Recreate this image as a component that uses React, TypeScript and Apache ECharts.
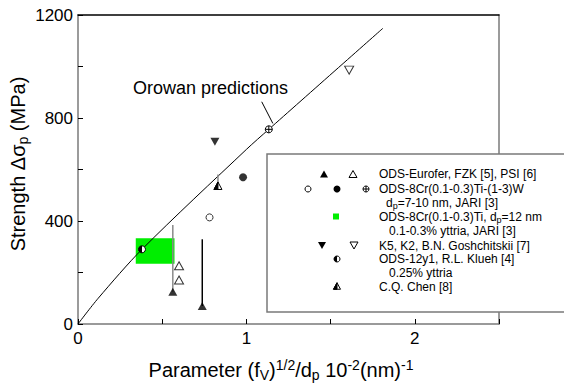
import React, { useEffect, useRef } from 'react';
import * as echarts from 'echarts';

// ---------- data ----------
// Orowan prediction curve (x: (fV)^1/2/dp [10^-2 nm^-1], y: MPa)
const orowanX = [0, 0.12, 0.38, 1.0, 1.133, 1.81];
const orowanY = [0, 100, 290, 678, 756, 1148];
// Green box: ODS-8Cr(0.1-0.3)Ti, dp=12 nm  [xMin, xMax, yMin, yMax]
const greenBox = [[0.343, 0.573, 234, 333]];
// Vertical range bars [x, yLow, yHigh]
const rangeBars = [
  [0.563, 125, 384],
  [0.738, 70, 329],
  [0.831, 537, 581],
];
const rangeBarColors = ['#8a8a8a', '#000000', '#8a8a8a'];
// Scatter series
const euroferFZK = [[0.563, 125], [0.738, 70]];
const euroferPSI = [[0.60, 226], [0.60, 171]];
const jariOpen = [[0.781, 414]];
const jariFilled = [[0.98, 570]];
const jariCrossed = [[1.133, 756]];
const goshK5 = [[0.813, 708]];
const goshK2 = [[1.61, 986]];
const kluehHalf = [[0.38, 290]];
const chenHalf = [[0.831, 537]];
// Annotation arrow (data coords)
const arrowFrom = [1.091, 863];
const arrowTo = [1.157, 779];
// Axis ticks
const xTickLabels = [0, 1, 2];
const yTickLabels = [0, 400, 800, 1200];

const FONT = 'Liberation Sans, Arial, Helvetica, sans-serif';

function triPts(cx: number, cy: number, w: number, h: number, down = false) {
  return down
    ? [[cx - w / 2, cy - h / 2], [cx + w / 2, cy - h / 2], [cx, cy + h / 2]]
    : [[cx, cy - h / 2], [cx - w / 2, cy + h / 2], [cx + w / 2, cy + h / 2]];
}

function halfCircle(cx: number, cy: number, r: number, z = 0) {
  return [
    { type: 'circle', z, shape: { cx, cy, r }, style: { fill: '#fff', stroke: '#000', lineWidth: 1 } },
    {
      type: 'sector', z,
      shape: { cx, cy, r, r0: 0, startAngle: Math.PI / 2, endAngle: (Math.PI * 3) / 2, clockwise: true },
      style: { fill: '#000' },
    },
  ];
}
function halfTri(cx: number, cy: number, w: number, h: number, z = 0) {
  return [
    { type: 'polygon', z, shape: { points: triPts(cx, cy, w, h) }, style: { fill: '#fff', stroke: '#000', lineWidth: 1 } },
    {
      type: 'polygon', z,
      shape: { points: [[cx, cy - h / 2], [cx - w / 2, cy + h / 2], [cx, cy + h / 2]] },
      style: { fill: '#000', stroke: '#000', lineWidth: 1 },
    },
  ];
}
function crossCircle(cx: number, cy: number, r: number, z = 0) {
  return [
    { type: 'circle', z, shape: { cx, cy, r }, style: { fill: '#fff', stroke: '#000', lineWidth: 1 } },
    { type: 'line', z, shape: { x1: cx - r, y1: cy, x2: cx + r, y2: cy }, style: { stroke: '#000', lineWidth: 1 } },
    { type: 'line', z, shape: { x1: cx, y1: cy - r, x2: cx, y2: cy + r }, style: { stroke: '#000', lineWidth: 1 } },
  ];
}

export default function App() {
  const ref = useRef<HTMLDivElement>(null);
  useEffect(() => {
    if (!ref.current) return;
    const chart = echarts.init(ref.current, null, { renderer: 'svg' });

    const LZ = 100;
    const legendRows: [number, string, number][] = [
      [379, '{n|ODS-Eurofer, FZK [5], PSI [6]}', 174],
      [379, '{n|ODS-8Cr(0.1-0.3)Ti-(1-3)W}', 188.5],
      [386, '{n|d}{s|p}{n|=7-10 nm, JARI [3]}', 202.5],
      [379, '{n|ODS-8Cr(0.1-0.3)Ti, d}{s|p}{n|=12 nm}', 216.5],
      [389, '{n|0.1-0.3% yttria, JARI [3]}', 231],
      [379, '{n|K5, K2, B.N. Goshchitskii [7]}', 245.5],
      [379, '{n|ODS-12y1, R.L. Klueh [4]}', 259],
      [389, '{n|0.25% yttria}', 273],
      [379, '{n|C.Q. Chen [8]}', 286.5],
    ];
    const legendRich = {
      n: { fontSize: 12, fontFamily: FONT, fill: '#000', lineHeight: 16, verticalAlign: 'middle' },
      s: { fontSize: 9, fontFamily: FONT, fill: '#000', lineHeight: 10, verticalAlign: 'bottom' },
    };

    const legendGraphics: any[] = [
      {
        type: 'rect', z: LZ - 1,
        shape: { x: 267, y: 154, width: 320, height: 158 },
        style: { fill: '#fff', stroke: '#7a7a7a', lineWidth: 1.5 },
      },
      ...legendRows.map(([x, t, y]) => ({
        type: 'text', z: LZ, x, y,
        style: { text: t, rich: legendRich, align: 'left', verticalAlign: 'middle', fontSize: 12, fontFamily: FONT, fill: '#000' },
      })),
      { type: 'polygon', z: LZ, shape: { points: triPts(324, 174, 8, 7) }, style: { fill: '#000' } },
      { type: 'polygon', z: LZ, shape: { points: triPts(353, 174, 8, 7) }, style: { fill: '#fff', stroke: '#000', lineWidth: 1 } },
      { type: 'circle', z: LZ, shape: { cx: 308, cy: 189, r: 3 }, style: { fill: '#fff', stroke: '#000', lineWidth: 1 } },
      { type: 'circle', z: LZ, shape: { cx: 337, cy: 189, r: 3.5 }, style: { fill: '#000' } },
      ...crossCircle(366, 189, 3, LZ),
      { type: 'rect', z: LZ, shape: { x: 333, y: 213.5, width: 6, height: 6 }, style: { fill: '#00ee00' } },
      { type: 'polygon', z: LZ, shape: { points: triPts(322, 245.5, 8, 7, true) }, style: { fill: '#000' } },
      { type: 'polygon', z: LZ, shape: { points: triPts(354, 245.5, 8, 7, true) }, style: { fill: '#fff', stroke: '#000', lineWidth: 1 } },
      ...halfCircle(337, 259, 3, LZ),
      ...halfTri(337, 286, 7, 6.5, LZ),
    ];

    const titleRich = {
      n: { fontSize: 20, fontFamily: FONT, fill: '#000', lineHeight: 24, verticalAlign: 'middle' },
      sub: { fontSize: 14, fontFamily: FONT, fill: '#000', lineHeight: 15, verticalAlign: 'bottom' },
      sup: { fontSize: 14, fontFamily: FONT, fill: '#000', lineHeight: 15, verticalAlign: 'top' },
    };

    const option: any = {
      animation: false,
      backgroundColor: '#fff',
      grid: { left: 78, right: 65, top: 15, bottom: 62, containLabel: false },
      xAxis: [
        {
          type: 'value', min: 0, max: 2.5, interval: 0.5, position: 'bottom',
          axisLine: { show: true, onZero: false, lineStyle: { color: '#7a7a7a', width: 1.5 } },
          axisTick: { show: true, inside: true, length: 5, lineStyle: { color: '#000', width: 1 } },
          axisLabel: {
            formatter: (v: number) => (xTickLabels.includes(v) ? String(v) : ''),
            fontSize: 17, fontFamily: FONT, color: '#000', margin: 6,
          },
          splitLine: { show: false },
        },
        {
          type: 'value', min: 0, max: 2.5, position: 'top',
          axisLine: { show: true, onZero: false, lineStyle: { color: '#000', width: 1.5 } },
          axisTick: { show: false }, axisLabel: { show: false }, splitLine: { show: false },
        },
      ],
      yAxis: [
        {
          type: 'value', min: 0, max: 1200, interval: 200, position: 'left',
          axisLine: { show: true, onZero: false, lineStyle: { color: '#7a7a7a', width: 1.5 } },
          axisTick: { show: true, inside: true, length: 5, lineStyle: { color: '#000', width: 1 } },
          axisLabel: {
            formatter: (v: number) => (yTickLabels.includes(v) ? String(v) : ''),
            fontSize: 17, fontFamily: FONT, color: '#000', margin: 5,
          },
          splitLine: { show: false },
        },
        {
          type: 'value', min: 0, max: 1200, position: 'right',
          axisLine: { show: true, onZero: false, lineStyle: { color: '#7a7a7a', width: 1.5 } },
          axisTick: { show: false }, axisLabel: { show: false }, splitLine: { show: false },
        },
      ],
      graphic: [
        {
          type: 'text', x: 281, y: 370, z: 50,
          style: {
            text: '{n|Parameter (f}{sub|V}{n|)}{sup|1/2}{n|/d}{sub|p}{n| 10}{sup|-2}{n|(nm)}{sup|-1}',
            rich: titleRich, align: 'center', verticalAlign: 'middle', fontSize: 20, fontFamily: FONT, fill: '#000',
          },
        },
        {
          type: 'text', x: 18, y: 164, z: 50, rotation: Math.PI / 2,
          style: {
            text: '{n|Strength Δσ}{sub|p}{n| (MPa)}',
            rich: titleRich, align: 'center', verticalAlign: 'middle', fontSize: 20, fontFamily: FONT, fill: '#000',
          },
        },
        {
          type: 'text', x: 133, y: 88, z: 50,
          style: { text: 'Orowan predictions', fontSize: 18, fontFamily: FONT, fill: '#000', align: 'left', verticalAlign: 'middle' },
        },
        ...legendGraphics,
      ],
      series: [
        {
          type: 'custom', name: 'greenBox', z: 1,
          data: greenBox,
          encode: { x: [0, 1], y: [2, 3] },
          renderItem: (_p: any, api: any) => {
            const a = api.coord([api.value(0), api.value(3)]);
            const b = api.coord([api.value(1), api.value(2)]);
            return { type: 'rect', shape: { x: a[0], y: a[1], width: b[0] - a[0], height: b[1] - a[1] }, style: { fill: '#00ee00' } };
          },
        },
        {
          type: 'line', name: 'Orowan', z: 2,
          data: orowanX.map((x, i) => [x, orowanY[i]]),
          smooth: 0.3, showSymbol: false, symbol: 'none',
          lineStyle: { color: '#000', width: 1 },
          markLine: {
            silent: true, symbol: ['none', 'arrow'], symbolSize: [0, 7],
            label: { show: false },
            lineStyle: { color: '#000', width: 1, type: 'solid' },
            data: [[{ coord: arrowFrom }, { coord: arrowTo }]],
          },
        },
        {
          type: 'custom', name: 'bars', z: 3,
          data: rangeBars,
          encode: { x: 0, y: [1, 2] },
          renderItem: (p: any, api: any) => {
            const a = api.coord([api.value(0), api.value(1)]);
            const b = api.coord([api.value(0), api.value(2)]);
            return { type: 'line', shape: { x1: a[0], y1: a[1], x2: b[0], y2: b[1] }, style: { stroke: rangeBarColors[p.dataIndex], lineWidth: 1.5 } };
          },
        },
        { type: 'scatter', z: 5, data: euroferFZK, symbol: 'triangle', symbolSize: [9, 8], itemStyle: { color: '#000' } },
        { type: 'scatter', z: 5, data: euroferPSI, symbol: 'triangle', symbolSize: [9, 8], itemStyle: { color: '#fff', borderColor: '#000', borderWidth: 1 } },
        { type: 'scatter', z: 5, data: jariOpen, symbol: 'circle', symbolSize: 7, itemStyle: { color: '#fff', borderColor: '#000', borderWidth: 1 } },
        { type: 'scatter', z: 5, data: jariFilled, symbol: 'circle', symbolSize: 8, itemStyle: { color: '#000' } },
        { type: 'scatter', z: 5, data: goshK5, symbol: 'triangle', symbolSize: [9, 8], symbolRotate: 180, itemStyle: { color: '#000' } },
        { type: 'scatter', z: 5, data: goshK2, symbol: 'triangle', symbolSize: [9, 8], symbolRotate: 180, itemStyle: { color: '#fff', borderColor: '#000', borderWidth: 1 } },
        {
          type: 'custom', z: 6, data: jariCrossed,
          renderItem: (_p: any, api: any) => {
            const c = api.coord([api.value(0), api.value(1)]);
            return { type: 'group', children: crossCircle(c[0], c[1], 3.5) };
          },
        },
        {
          type: 'custom', z: 6, data: kluehHalf,
          renderItem: (_p: any, api: any) => {
            const c = api.coord([api.value(0), api.value(1)]);
            return { type: 'group', children: halfCircle(c[0], c[1], 3.5) };
          },
        },
        {
          type: 'custom', z: 6, data: chenHalf,
          renderItem: (_p: any, api: any) => {
            const c = api.coord([api.value(0), api.value(1)]);
            return { type: 'group', children: halfTri(c[0], c[1], 8, 7.5) };
          },
        },
      ],
    };
    chart.setOption(option);
    return () => chart.dispose();
  }, []);

  return (
    <div
      ref={ref}
      style={{ position: 'fixed', left: 0, top: 0, width: 564, height: 386, background: '#fff' }}
    />
  );
}
